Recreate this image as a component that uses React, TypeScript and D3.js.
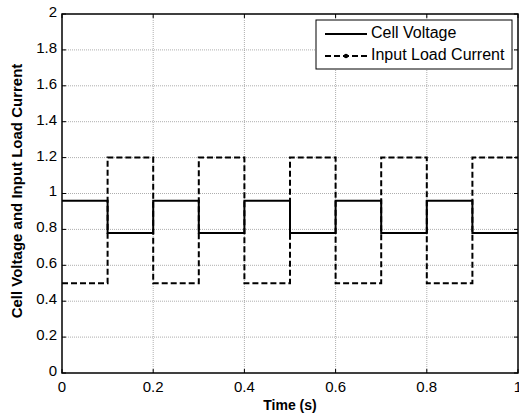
import * as d3 from 'd3'

// step data, value held over each 0.1 s interval
const segStarts = [0, 0.1, 0.2, 0.3, 0.4, 0.5, 0.6, 0.7, 0.8, 0.9]
const cellVoltage = [0.96, 0.78, 0.96, 0.78, 0.96, 0.78, 0.96, 0.78, 0.96, 0.78]
const loadCurrent = [0.5, 1.2, 0.5, 1.2, 0.5, 1.2, 0.5, 1.2, 0.5, 1.2]
const xTicks = [0, 0.2, 0.4, 0.6, 0.8, 1]
const yTicks = [0, 0.2, 0.4, 0.6, 0.8, 1, 1.2, 1.4, 1.6, 1.8, 2]

const W = 519
const H = 416
const M = { left: 62, right: 1, top: 14, bottom: 43 }
const FONT = 'Liberation Sans, Arial, sans-serif'

function stepPoints(vals: number[]): [number, number][] {
  const pts: [number, number][] = []
  vals.forEach((v, i) => {
    pts.push([segStarts[i], v])
    pts.push([i + 1 < segStarts.length ? segStarts[i + 1] : 1, v])
  })
  return pts
}

export default function App() {
  const x = d3.scaleLinear().domain([0, 1]).range([M.left, W - M.right])
  const y = d3.scaleLinear().domain([0, 2]).range([H - M.bottom, M.top])
  const line = d3.line<[number, number]>().x(d => x(d[0])).y(d => y(d[1]))

  const x0 = x(0), x1 = x(1), y0 = y(0), y1 = y(2)
  const tickFmt = (v: number) => (v % 1 === 0 ? String(v) : String(+v.toFixed(1)))

  const lgX = 316, lgY = 20, lgW = 196, lgH = 49

  return (
    <svg width={W} height={H} style={{ position: 'absolute', left: 0, top: 0, background: '#fff' }}>
      {/* grid */}
      {xTicks.slice(1, -1).map(t => (
        <line key={'gx' + t} x1={x(t)} x2={x(t)} y1={y0} y2={y1}
          stroke="#999" strokeWidth={0.8} strokeDasharray="1,1" />
      ))}
      {yTicks.slice(1, -1).map(t => (
        <line key={'gy' + t} x1={x0} x2={x1} y1={y(t)} y2={y(t)}
          stroke="#999" strokeWidth={0.8} strokeDasharray="1,1" />
      ))}

      {/* series */}
      <path d={line(stepPoints(loadCurrent)) ?? ''} fill="none" stroke="#000"
        strokeWidth={2} strokeDasharray="6,3" />
      <path d={line(stepPoints(cellVoltage)) ?? ''} fill="none" stroke="#000" strokeWidth={2} />

      {/* box */}
      <rect x={x0} y={y1} width={x1 - x0} height={y0 - y1} fill="none" stroke="#000" strokeWidth={1.5} />

      {/* ticks */}
      {xTicks.map(t => (
        <g key={'tx' + t}>
          <line x1={x(t)} x2={x(t)} y1={y0} y2={y0 - 4} stroke="#000" />
          <line x1={x(t)} x2={x(t)} y1={y1} y2={y1 + 4} stroke="#000" />
          <text x={x(t)} y={y0 + 15} textAnchor="middle" dominantBaseline="middle"
            style={{ fontSize: 15, fontFamily: FONT }}>{tickFmt(t)}</text>
        </g>
      ))}
      {yTicks.map(t => (
        <g key={'ty' + t}>
          <line x1={x0} x2={x0 + 4} y1={y(t)} y2={y(t)} stroke="#000" />
          <line x1={x1} x2={x1 - 4} y1={y(t)} y2={y(t)} stroke="#000" />
          <text x={x0 - 5} y={y(t) - 1} textAnchor="end" dominantBaseline="middle"
            style={{ fontSize: 15, fontFamily: FONT }}>{tickFmt(t)}</text>
        </g>
      ))}

      {/* axis labels */}
      <text x={(x0 + x1) / 2} y={406} textAnchor="middle" dominantBaseline="middle"
        style={{ fontSize: 14, fontWeight: 700, fontFamily: FONT }}>Time (s)</text>
      <text transform={`translate(18,191) rotate(-90)`} textAnchor="middle" dominantBaseline="middle"
        style={{ fontSize: 15, fontWeight: 700, fontFamily: FONT }}>Cell Voltage and Input Load Current</text>

      {/* legend */}
      <rect x={lgX} y={lgY} width={lgW} height={lgH} fill="#fff" stroke="#000" strokeWidth={1} />
      <line x1={lgX + 9} x2={lgX + 51} y1={lgY + 14} y2={lgY + 14} stroke="#000" strokeWidth={2} />
      <text x={lgX + 55} y={lgY + 14} dominantBaseline="middle"
        style={{ fontSize: 16, fontFamily: FONT }}>Cell Voltage</text>
      <line x1={lgX + 9} x2={lgX + 51} y1={lgY + 36} y2={lgY + 36} stroke="#000" strokeWidth={2} strokeDasharray="6,3" />
      <circle cx={lgX + 30} cy={lgY + 36} r={2.2} fill="#000" />
      <text x={lgX + 55} y={lgY + 36} dominantBaseline="middle"
        style={{ fontSize: 16, fontFamily: FONT }}>Input Load Current</text>
    </svg>
  )
}
